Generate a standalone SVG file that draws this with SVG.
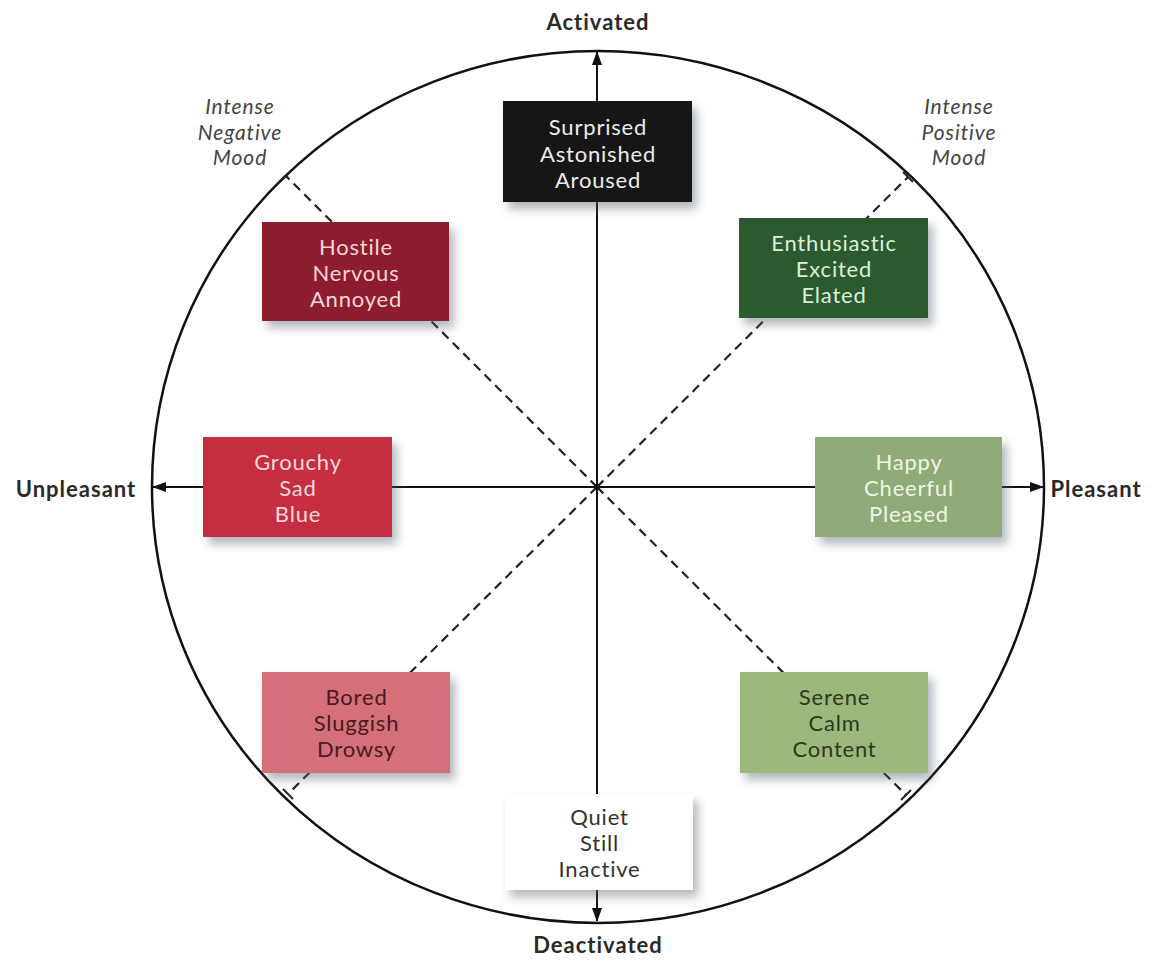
<svg xmlns="http://www.w3.org/2000/svg" width="1159" height="961" viewBox="0 0 1159 961">
<defs>
<marker id="arr" viewBox="0 0 14 10" refX="13" refY="5" markerWidth="14" markerHeight="10" markerUnits="userSpaceOnUse" orient="auto">
<path d="M0,0 L14,5 L0,10 Z" fill="#111"/>
</marker>
<filter id="sh" x="-20%" y="-20%" width="150%" height="160%">
<feDropShadow dx="5" dy="7" stdDeviation="5" flood-color="#556070" flood-opacity="0.45"/>
</filter>
<style>
.axis{stroke:#111;stroke-width:2;fill:none}
.dash{stroke:#222;stroke-width:2.2;stroke-dasharray:9 6;fill:none}
.tick{stroke:#222;stroke-width:2}
.box{filter:url(#sh)}
.bt{font-family:Lato,"Noto Sans",sans-serif;font-size:22px;letter-spacing:0.8px;text-anchor:middle}
.ax{font-family:Lato,"Noto Sans",sans-serif;font-size:22px;font-weight:700;letter-spacing:1px;fill:#2a2a2a;text-anchor:middle}
.mood{font-family:Lato,"Noto Sans",sans-serif;font-size:21px;font-style:italic;letter-spacing:0.9px;fill:#444;text-anchor:middle}
</style>
</defs>
<rect width="1159" height="961" fill="#fff"/>
<ellipse cx="598" cy="487" rx="446" ry="436" fill="none" stroke="#111" stroke-width="2.5"/>
<g id="connectors">
<line class="dash" x1="597" y1="487" x2="286" y2="176"/>
<line class="dash" x1="597" y1="487" x2="908" y2="177"/>
<line class="dash" x1="597" y1="487" x2="288" y2="794"/>
<line class="dash" x1="597" y1="487" x2="906" y2="795"/>
<line class="tick" x1="281" y1="181" x2="291" y2="171"/>
<line class="tick" x1="903" y1="172" x2="913" y2="182"/>
<line class="tick" x1="283" y1="789" x2="293" y2="799"/>
<line class="tick" x1="901" y1="800" x2="911" y2="790"/>
<line class="axis" x1="597" y1="487" x2="597" y2="52" marker-end="url(#arr)"/>
<line class="axis" x1="597" y1="487" x2="597" y2="921" marker-end="url(#arr)"/>
<line class="axis" x1="597" y1="487" x2="153" y2="487" marker-end="url(#arr)"/>
<line class="axis" x1="597" y1="487" x2="1043" y2="487" marker-end="url(#arr)"/>
<circle cx="597" cy="487" r="3" fill="#111"/>
</g>
<g id="label-activated"><text class="ax" x="598" y="30">Activated</text></g>
<g id="label-deactivated"><text class="ax" x="598" y="953">Deactivated</text></g>
<g id="label-unpleasant"><text class="ax" x="76" y="497">Unpleasant</text></g>
<g id="label-pleasant"><text class="ax" x="1096" y="497">Pleasant</text></g>
<g id="mood-negative"><text class="mood"><tspan x="240" y="114">Intense</tspan><tspan x="240" y="140">Negative</tspan><tspan x="240" y="165">Mood</tspan></text></g>
<g id="mood-positive"><text class="mood"><tspan x="959" y="114">Intense</tspan><tspan x="959" y="140">Positive</tspan><tspan x="959" y="165">Mood</tspan></text></g>
<g id="node-surprised">
<rect class="box" x="503" y="101" width="189" height="101" fill="#121212"/>
<text class="bt" fill="#ececec"><tspan x="598" y="135">Surprised</tspan><tspan x="598" y="161.5">Astonished</tspan><tspan x="598" y="188">Aroused</tspan></text>
</g>
<g id="node-hostile">
<rect class="box" x="262" y="222" width="187" height="99" fill="#8d1d2d"/>
<text class="bt" fill="#f2d6d8"><tspan x="356" y="255">Hostile</tspan><tspan x="356" y="281">Nervous</tspan><tspan x="356" y="307">Annoyed</tspan></text>
</g>
<g id="node-enthusiastic">
<rect class="box" x="739" y="218" width="189" height="100" fill="#2c5a2e"/>
<text class="bt" fill="#dcefd8"><tspan x="834" y="251">Enthusiastic</tspan><tspan x="834" y="277">Excited</tspan><tspan x="834" y="303">Elated</tspan></text>
</g>
<g id="node-grouchy">
<rect class="box" x="203" y="437" width="189" height="100" fill="#c52f40"/>
<text class="bt" fill="#f6d8dc"><tspan x="298" y="470">Grouchy</tspan><tspan x="298" y="496">Sad</tspan><tspan x="298" y="522">Blue</tspan></text>
</g>
<g id="node-happy">
<rect class="box" x="815" y="437" width="187" height="100" fill="#8eab78"/>
<text class="bt" fill="#eef5e6"><tspan x="909" y="470">Happy</tspan><tspan x="909" y="496">Cheerful</tspan><tspan x="909" y="522">Pleased</tspan></text>
</g>
<g id="node-bored">
<rect class="box" x="262" y="672" width="188" height="101" fill="#d46f79"/>
<text class="bt" fill="#4a1a20"><tspan x="356.5" y="705">Bored</tspan><tspan x="356.5" y="731">Sluggish</tspan><tspan x="356.5" y="757">Drowsy</tspan></text>
</g>
<g id="node-serene">
<rect class="box" x="740" y="672" width="188" height="101" fill="#9cb87b"/>
<text class="bt" fill="#2a3a1c"><tspan x="834.5" y="705">Serene</tspan><tspan x="834.5" y="731">Calm</tspan><tspan x="834.5" y="757">Content</tspan></text>
</g>
<g id="node-quiet">
<rect class="box" x="505" y="794" width="188" height="96" fill="#ffffff"/>
<text class="bt" fill="#333"><tspan x="599.5" y="825">Quiet</tspan><tspan x="599.5" y="851">Still</tspan><tspan x="599.5" y="877">Inactive</tspan></text>
</g>
</svg>
